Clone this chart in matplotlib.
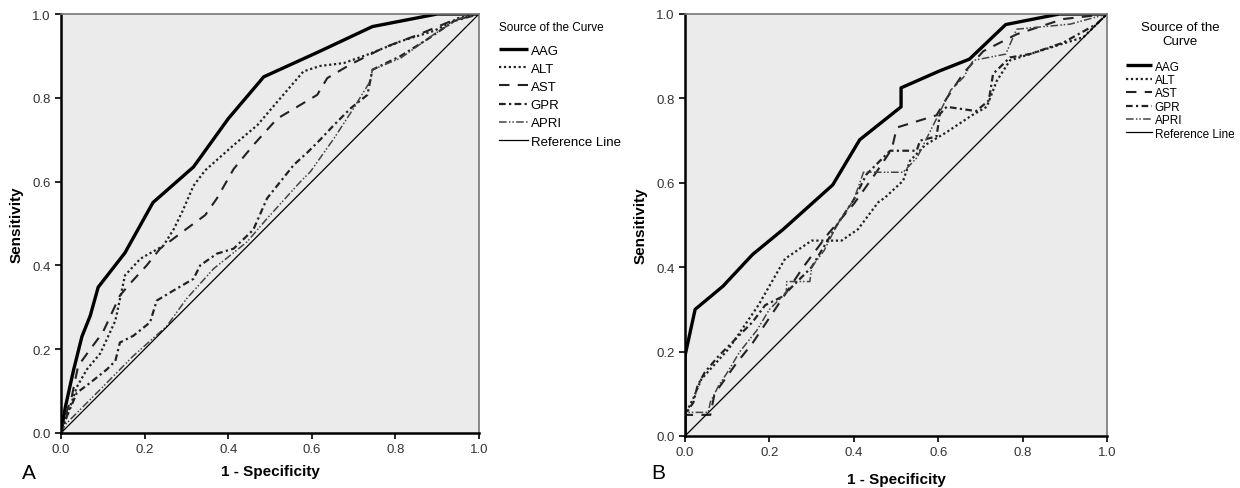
import matplotlib.pyplot as plt
import numpy as np

plt.rcParams['font.family'] = ['Liberation Sans', 'DejaVu Sans']

# Panel A curves (1 - specificity, sensitivity)
a_aag_x = [0, 0.01, 0.03, 0.05, 0.07, 0.089, 0.153, 0.22, 0.317, 0.40, 0.485, 0.617, 0.745, 0.90, 1.0]
a_aag_y = [0, 0.06, 0.15, 0.23, 0.28, 0.348, 0.43, 0.55, 0.635, 0.75, 0.85, 0.91, 0.97, 1.0, 1.0]
a_alt_x = [0, 0.014, 0.038, 0.062, 0.094, 0.13, 0.153, 0.19, 0.245, 0.27, 0.29, 0.317, 0.345, 0.413, 0.47, 0.517, 0.58, 0.62, 0.677, 0.733, 0.813, 0.893, 0.95, 1.0]
a_alt_y = [0, 0.04, 0.11, 0.152, 0.19, 0.268, 0.376, 0.416, 0.447, 0.487, 0.528, 0.59, 0.627, 0.687, 0.735, 0.79, 0.863, 0.876, 0.883, 0.903, 0.935, 0.96, 0.99, 1.0]
a_ast_x = [0, 0.01, 0.026, 0.041, 0.07, 0.10, 0.141, 0.161, 0.205, 0.237, 0.30, 0.345, 0.373, 0.413, 0.46, 0.517, 0.613, 0.637, 0.693, 0.773, 0.853, 0.933, 1.0]
a_ast_y = [0, 0.04, 0.088, 0.16, 0.20, 0.24, 0.328, 0.352, 0.40, 0.44, 0.487, 0.52, 0.56, 0.63, 0.687, 0.75, 0.807, 0.847, 0.88, 0.92, 0.95, 0.983, 1.0]
a_gpr_x = [0, 0.014, 0.038, 0.07, 0.11, 0.13, 0.141, 0.173, 0.213, 0.229, 0.269, 0.317, 0.333, 0.373, 0.413, 0.46, 0.493, 0.517, 0.557, 0.59, 0.62, 0.653, 0.693, 0.733, 0.745, 0.813, 0.877, 0.94, 1.0]
a_gpr_y = [0, 0.04, 0.096, 0.12, 0.152, 0.172, 0.216, 0.232, 0.264, 0.316, 0.34, 0.368, 0.40, 0.428, 0.44, 0.485, 0.56, 0.59, 0.64, 0.67, 0.70, 0.735, 0.775, 0.807, 0.867, 0.90, 0.94, 0.983, 1.0]
a_apri_x = [0, 0.01, 0.03, 0.094, 0.173, 0.253, 0.30, 0.365, 0.445, 0.493, 0.573, 0.597, 0.653, 0.70, 0.74, 0.745, 0.813, 0.893, 0.95, 1.0]
a_apri_y = [0, 0.02, 0.04, 0.104, 0.184, 0.255, 0.32, 0.392, 0.456, 0.512, 0.60, 0.624, 0.703, 0.775, 0.84, 0.867, 0.895, 0.952, 0.988, 1.0]

# Panel B curves
b_aag_x = [0, 0, 0.024, 0.09, 0.16, 0.233, 0.35, 0.414, 0.512, 0.512, 0.603, 0.674, 0.76, 0.887, 1.0]
b_aag_y = [0, 0.19, 0.30, 0.355, 0.43, 0.49, 0.595, 0.702, 0.78, 0.825, 0.865, 0.893, 0.975, 1.0, 1.0]
b_alt_x = [0, 0, 0.02, 0.039, 0.103, 0.174, 0.237, 0.30, 0.371, 0.41, 0.458, 0.474, 0.517, 0.533, 0.57, 0.62, 0.68, 0.715, 0.739, 0.77, 0.865, 0.944, 1.0]
b_alt_y = [0, 0.05, 0.09, 0.135, 0.206, 0.31, 0.42, 0.463, 0.463, 0.49, 0.554, 0.565, 0.605, 0.652, 0.69, 0.72, 0.76, 0.78, 0.842, 0.89, 0.92, 0.945, 1.0]
b_ast_x = [0, 0, 0.06, 0.07, 0.12, 0.16, 0.20, 0.24, 0.28, 0.31, 0.34, 0.40, 0.45, 0.49, 0.502, 0.596, 0.62, 0.66, 0.707, 0.786, 0.896, 1.0]
b_ast_y = [0, 0.05, 0.05, 0.10, 0.17, 0.22, 0.28, 0.34, 0.40, 0.44, 0.48, 0.55, 0.62, 0.68, 0.731, 0.76, 0.80, 0.86, 0.912, 0.952, 0.988, 1.0]
b_gpr_x = [0, 0, 0.02, 0.03, 0.047, 0.08, 0.12, 0.16, 0.19, 0.23, 0.26, 0.30, 0.33, 0.36, 0.40, 0.43, 0.486, 0.549, 0.557, 0.596, 0.604, 0.62, 0.69, 0.72, 0.73, 0.77, 0.817, 0.896, 0.975, 1.0]
b_gpr_y = [0, 0.05, 0.08, 0.12, 0.151, 0.19, 0.23, 0.27, 0.31, 0.33, 0.36, 0.40, 0.45, 0.50, 0.56, 0.62, 0.676, 0.676, 0.70, 0.71, 0.763, 0.78, 0.77, 0.795, 0.858, 0.897, 0.905, 0.932, 0.976, 1.0]
b_apri_x = [0, 0, 0.055, 0.06, 0.08, 0.10, 0.13, 0.17, 0.20, 0.24, 0.241, 0.296, 0.30, 0.33, 0.36, 0.40, 0.423, 0.517, 0.55, 0.58, 0.60, 0.63, 0.66, 0.683, 0.76, 0.786, 0.913, 1.0]
b_apri_y = [0, 0.056, 0.056, 0.08, 0.12, 0.15, 0.20, 0.25, 0.30, 0.34, 0.366, 0.366, 0.40, 0.44, 0.50, 0.56, 0.625, 0.625, 0.66, 0.72, 0.76, 0.82, 0.85, 0.89, 0.905, 0.964, 0.976, 1.0]

names = ['AAG', 'ALT', 'AST', 'GPR', 'APRI']
ticks = [0.0, 0.2, 0.4, 0.6, 0.8, 1.0]
tick_labels = ['0.0', '0.2', '0.4', '0.6', '0.8', '1.0']

styles = [
    dict(color='black', lw=2.4, ls='-'),
    dict(color='#222222', lw=1.6, ls=(0, (1, 1.2))),
    dict(color='#222222', lw=1.5, ls=(0, (5, 4))),
    dict(color='#222222', lw=1.6, ls=(0, (3, 1.5, 1, 1.5))),
    dict(color='#444444', lw=1.1, ls=(0, (5, 1.5, 1, 1.2, 1, 1.5))),
]

fig = plt.figure(figsize=(12.4, 4.89), dpi=100)
axA = fig.add_axes([61 / 1240, 1 - 434 / 489, 418 / 1240, 419 / 489])
axB = fig.add_axes([685 / 1240, 1 - 437 / 489, 422 / 1240, 422 / 489])

panels = [
    (axA, [(a_aag_x, a_aag_y), (a_alt_x, a_alt_y), (a_ast_x, a_ast_y), (a_gpr_x, a_gpr_y), (a_apri_x, a_apri_y)], 6),
    (axB, [(b_aag_x, b_aag_y), (b_alt_x, b_alt_y), (b_ast_x, b_ast_y), (b_gpr_x, b_gpr_y), (b_apri_x, b_apri_y)], 10),
]

for ax, curves, xpad in panels:
    ax.set_facecolor('#ebebeb')
    for (x, y), name, st in zip(curves, names, styles):
        ax.plot(x, y, label=name, solid_capstyle='butt', **st)
    ax.plot([0, 1], [0, 1], color='black', lw=0.9, label='Reference Line')
    ax.set_xlim(0, 1)
    ax.set_ylim(0, 1)
    ax.set_xticks(ticks)
    ax.set_xticklabels(tick_labels)
    ax.set_yticks(ticks)
    ax.set_yticklabels(tick_labels)
    ax.tick_params(direction='out', length=4, width=1.2, labelsize=9.5, colors='black', labelcolor='#333333')
    ax.spines['left'].set_linewidth(1.8)
    ax.spines['bottom'].set_linewidth(1.8)
    ax.spines['top'].set_color('#777777')
    ax.spines['right'].set_color('#777777')
    ax.spines['top'].set_linewidth(1.2)
    ax.spines['right'].set_linewidth(1.2)
    ax.set_xlabel('1 - Specificity', fontsize=11, fontweight='bold', labelpad=xpad)
    ax.set_ylabel('Sensitivity', fontsize=11, fontweight='bold', labelpad=6)

legA = axA.legend(title='Source of the Curve', loc='upper left', bbox_to_anchor=(1.035, 0.995),
                  frameon=False, fontsize=9.5, title_fontsize=8.5, handlelength=2.2,
                  handletextpad=0.2, labelspacing=0.45, borderaxespad=0)
legA._legend_box.align = 'left'
legA._legend_box.sep = 8

legB = axB.legend(title='Source of the\nCurve', loc='upper left', bbox_to_anchor=(1.035, 0.995),
                  frameon=False, fontsize=8.5, title_fontsize=9.5, handlelength=2.2,
                  handletextpad=0.2, labelspacing=0.12, borderaxespad=0)
legB.get_title().set_multialignment('center')
legB._legend_box.sep = 10

fig.text(22 / 1240, 1 - 474 / 489, 'A', fontsize=15, va='center', ha='left')
fig.text(651 / 1240, 1 - 474 / 489, 'B', fontsize=15, va='center', ha='left')

plt.savefig('out.png', dpi=100)
plt.close()
